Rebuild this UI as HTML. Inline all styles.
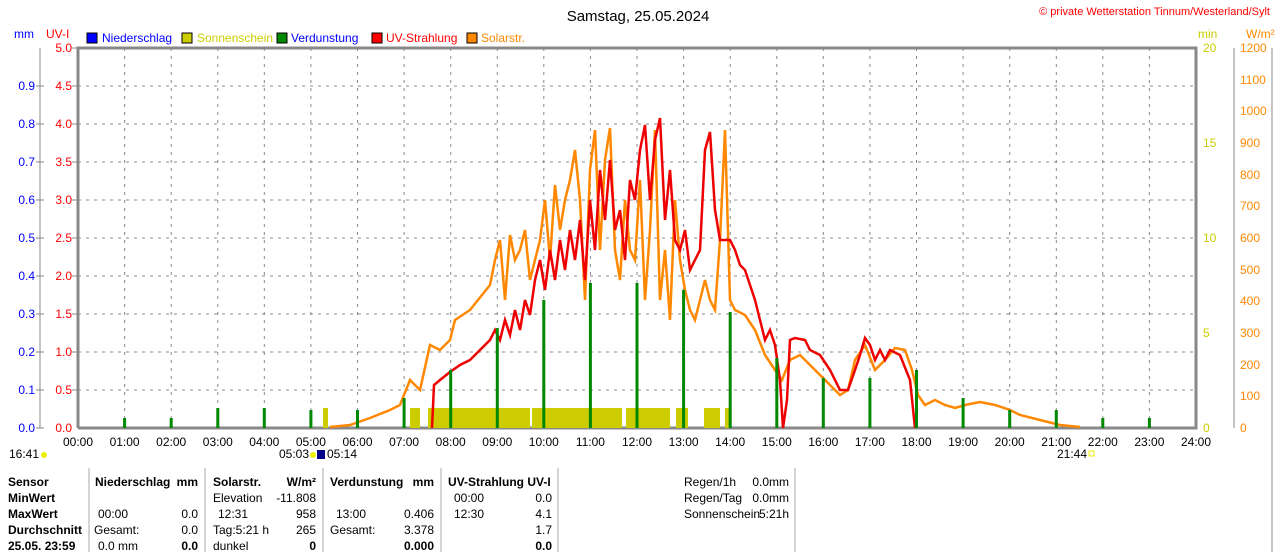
<!DOCTYPE html>
<html><head><meta charset="utf-8"><style>
body{margin:0;background:#fff;width:1280px;height:552px;overflow:hidden}
svg text{font-family:"Liberation Sans",sans-serif;font-size:12px}
</style></head><body>
<svg width="1280" height="552" xmlns="http://www.w3.org/2000/svg">
<text x="638" y="21" text-anchor="middle" style="font-size:15px">Samstag, 25.05.2024</text>
<text x="1270" y="15" text-anchor="end" fill="#f00" style="font-size:11px">© private Wetterstation Tinnum/Westerland/Sylt</text>
<text x="14" y="38" fill="#00f">mm</text><text x="46" y="38" fill="#f00">UV-I</text>
<rect x="87" y="33" width="10" height="10" fill="#00f" stroke="#000"/><text x="102" y="42" fill="#00f">Niederschlag</text>
<rect x="182" y="33" width="10" height="10" fill="#cc0" stroke="#000"/><text x="197" y="42" fill="#cc0">Sonnenschein</text>
<rect x="277" y="33" width="10" height="10" fill="#080" stroke="#000"/><text x="291" y="42" fill="#00f">Verdunstung</text>
<rect x="372" y="33" width="10" height="10" fill="#f00" stroke="#000"/><text x="386" y="42" fill="#f00">UV-Strahlung</text>
<rect x="467" y="33" width="10" height="10" fill="#f80" stroke="#000"/><text x="481" y="42" fill="#f80">Solarstr.</text>
<text x="1198" y="38" fill="#cc0">min</text><text x="1246" y="38" fill="#f80">W/m²</text>
<g stroke="#888" stroke-dasharray="3,5" stroke-width="1">
<path d="M78 86H1196M78 124H1196M78 162H1196M78 200H1196M78 238H1196M78 276H1196M78 314H1196M78 352H1196M78 390H1196"/>
<path d="M124.6 48V428M171.2 48V428M217.8 48V428M264.3 48V428M310.9 48V428M357.5 48V428M404.1 48V428M450.7 48V428M497.3 48V428M543.8 48V428M590.4 48V428M637 48V428M683.6 48V428M730.2 48V428M776.8 48V428M823.3 48V428M869.9 48V428M916.5 48V428M963.1 48V428M1009.7 48V428M1056.3 48V428M1102.8 48V428M1149.4 48V428"/>
</g>
<g stroke="#888" stroke-width="3" fill="none"><path d="M78 428V48H1196V428H78"/></g>
<path d="M40 48V428M1234 48V428M1272 48V552" stroke="#888" stroke-width="1"/>
<g stroke="#888"><path d="M36 86H44M36 124H44M36 162H44M36 200H44M36 238H44M36 276H44M36 314H44M36 352H44M36 390H44M36 428H44M72 48H78M72 86H78M72 124H78M72 162H78M72 200H78M72 238H78M72 276H78M72 314H78M72 352H78M72 390H78"/></g>
<g fill="#cc0">
<rect x="323" y="408" width="5" height="20"/><rect x="410" y="408" width="10" height="20"/><rect x="428" y="408" width="102" height="20"/><rect x="532" y="408" width="90" height="20"/><rect x="626" y="408" width="44" height="20"/><rect x="676" y="408" width="12" height="20"/><rect x="704" y="408" width="16" height="20"/><rect x="725" y="408" width="5" height="20"/>
</g>
<polyline fill="none" stroke="#f80" stroke-width="2.5" points="330,427 350,425 370,418 390,410 400,405 410,380 420,390 430,345 440,350 450,340 455,320 470,310 490,285 495,260 500,240 505,300 510,235 515,260 520,250 525,230 530,280 540,240 545,200 550,260 555,185 560,230 565,200 570,180 575,150 580,200 585,300 590,170 595,130 600,250 605,160 610,128 615,250 620,280 625,200 630,250 635,260 640,180 645,300 650,230 655,130 660,300 665,250 670,320 675,200 680,260 685,290 690,310 695,320 700,300 705,280 710,300 715,310 720,240 725,130 730,300 735,310 745,315 755,330 765,355 775,370 782,380 790,360 800,355 810,365 820,375 830,385 840,395 848,390 855,360 865,345 875,370 885,360 895,348 905,350 912,370 918,395 925,405 935,400 945,405 955,408 965,405 980,402 995,405 1010,410 1020,415 1040,420 1060,425 1080,427"/>
<polyline fill="none" stroke="#e00" stroke-width="2.5" points="432,428 434,385 440,380 450,372 460,365 470,360 480,350 490,340 495,330 500,340 505,320 510,335 515,310 520,330 525,300 530,315 535,280 540,260 545,290 550,250 555,280 560,240 565,270 570,230 575,260 580,220 585,280 590,200 595,250 600,170 605,220 610,160 615,230 620,210 625,260 630,180 635,200 640,150 645,125 650,200 655,140 660,118 665,220 670,170 675,240 680,250 685,230 690,270 695,260 700,250 705,150 710,132 715,210 720,240 730,240 735,250 740,265 745,270 750,285 755,300 760,320 765,340 770,330 775,345 780,380 783,428 787,400 790,340 795,338 805,340 810,350 820,355 830,370 840,390 848,390 855,370 860,355 865,338 870,345 875,360 880,350 885,360 890,350 900,355 910,380 915,428"/>
<g stroke="#080" stroke-width="3">
<path d="M124.6 428V418M171.2 428V418M217.8 428V408M264.3 428V408M310.9 428V410M357.5 428V410M404.1 428V398M450.7 428V370M497.3 428V328M543.8 428V300M590.4 428V283M637 428V283M683.6 428V290M730.2 428V312M776.8 428V358M823.3 428V378M869.9 428V378M916.5 428V370M963.1 428V398M1009.7 428V410M1056.3 428V410M1102.8 428V418M1149.4 428V418"/>
</g>
<g fill="#00f" text-anchor="end">
<text x="35" y="90">0.9</text><text x="35" y="128">0.8</text><text x="35" y="166">0.7</text><text x="35" y="204">0.6</text><text x="35" y="242">0.5</text><text x="35" y="280">0.4</text><text x="35" y="318">0.3</text><text x="35" y="356">0.2</text><text x="35" y="394">0.1</text><text x="35" y="432">0.0</text>
</g>
<g fill="#f00" text-anchor="end">
<text x="72" y="52">5.0</text><text x="72" y="90">4.5</text><text x="72" y="128">4.0</text><text x="72" y="166">3.5</text><text x="72" y="204">3.0</text><text x="72" y="242">2.5</text><text x="72" y="280">2.0</text><text x="72" y="318">1.5</text><text x="72" y="356">1.0</text><text x="72" y="394">0.5</text><text x="72" y="432">0.0</text>
</g>
<g fill="#cc0"><text x="1203" y="52">20</text><text x="1203" y="147">15</text><text x="1203" y="242">10</text><text x="1203" y="337">5</text><text x="1203" y="432">0</text></g>
<g fill="#f80"><text x="1240" y="52">1200</text><text x="1240" y="84">1100</text><text x="1240" y="115">1000</text><text x="1240" y="147">900</text><text x="1240" y="179">800</text><text x="1240" y="210">700</text><text x="1240" y="242">600</text><text x="1240" y="274">500</text><text x="1240" y="305">400</text><text x="1240" y="337">300</text><text x="1240" y="369">200</text><text x="1240" y="400">100</text><text x="1240" y="432">0</text></g>
<g text-anchor="middle">
<text x="78" y="446">00:00</text><text x="124.6" y="446">01:00</text><text x="171.2" y="446">02:00</text><text x="217.8" y="446">03:00</text><text x="264.3" y="446">04:00</text><text x="310.9" y="446">05:00</text><text x="357.5" y="446">06:00</text><text x="404.1" y="446">07:00</text><text x="450.7" y="446">08:00</text><text x="497.3" y="446">09:00</text><text x="543.8" y="446">10:00</text><text x="590.4" y="446">11:00</text><text x="637" y="446">12:00</text><text x="683.6" y="446">13:00</text><text x="730.2" y="446">14:00</text><text x="776.8" y="446">15:00</text><text x="823.3" y="446">16:00</text><text x="869.9" y="446">17:00</text><text x="916.5" y="446">18:00</text><text x="963.1" y="446">19:00</text><text x="1009.7" y="446">20:00</text><text x="1056.3" y="446">21:00</text><text x="1102.8" y="446">22:00</text><text x="1149.4" y="446">23:00</text><text x="1196" y="446">24:00</text>
</g>
<text x="9" y="458">16:41</text><circle cx="44" cy="455" r="3" fill="#ee0"/>
<text x="279" y="458">05:03</text><circle cx="313" cy="455" r="3" fill="#ee0"/><rect x="317" y="450" width="8" height="9" fill="#008"/><text x="327" y="458">05:14</text>
<text x="1057" y="458">21:44</text><rect x="1089" y="451" width="5" height="5" fill="none" stroke="#ee0"/>
<path d="M89 468V552M205 468V552M323 468V552M441 468V552M558 468V552M795 468V552" stroke="#aaa"/>
<g style="font-size:11px">
<g font-weight="bold"><text x="8" y="486">Sensor</text><text x="8" y="502">MinWert</text><text x="8" y="518">MaxWert</text><text x="8" y="534">Durchschnitt</text><text x="8" y="550">25.05. 23:59</text>
<text x="95" y="486">Niederschlag</text><text x="198" y="486" text-anchor="end">mm</text>
<text x="213" y="486">Solarstr.</text><text x="316" y="486" text-anchor="end">W/m²</text>
<text x="330" y="486">Verdunstung</text><text x="434" y="486" text-anchor="end">mm</text>
<text x="448" y="486">UV-Strahlung UV-I</text>
<text x="198" y="550" text-anchor="end">0.0</text><text x="316" y="550" text-anchor="end">0</text><text x="434" y="550" text-anchor="end">0.000</text><text x="552" y="550" text-anchor="end">0.0</text></g>
<text x="98" y="518">00:00</text><text x="198" y="518" text-anchor="end">0.0</text>
<text x="94" y="534">Gesamt:</text><text x="198" y="534" text-anchor="end">0.0</text>
<text x="98" y="550">0.0 mm</text>
<text x="213" y="502">Elevation</text><text x="316" y="502" text-anchor="end">-11.808</text>
<text x="218" y="518">12:31</text><text x="316" y="518" text-anchor="end">958</text>
<text x="213" y="534">Tag:5:21 h</text><text x="316" y="534" text-anchor="end">265</text>
<text x="213" y="550">dunkel</text>
<text x="336" y="518">13:00</text><text x="434" y="518" text-anchor="end">0.406</text>
<text x="330" y="534">Gesamt:</text><text x="434" y="534" text-anchor="end">3.378</text>
<text x="454" y="502">00:00</text><text x="552" y="502" text-anchor="end">0.0</text>
<text x="454" y="518">12:30</text><text x="552" y="518" text-anchor="end">4.1</text>
<text x="552" y="534" text-anchor="end">1.7</text>
<text x="684" y="486">Regen/1h</text><text x="789" y="486" text-anchor="end">0.0mm</text>
<text x="684" y="502">Regen/Tag</text><text x="789" y="502" text-anchor="end">0.0mm</text>
<text x="684" y="518">Sonnenschein</text><text x="789" y="518" text-anchor="end">5:21h</text>
</g>
</svg>
</body></html>
